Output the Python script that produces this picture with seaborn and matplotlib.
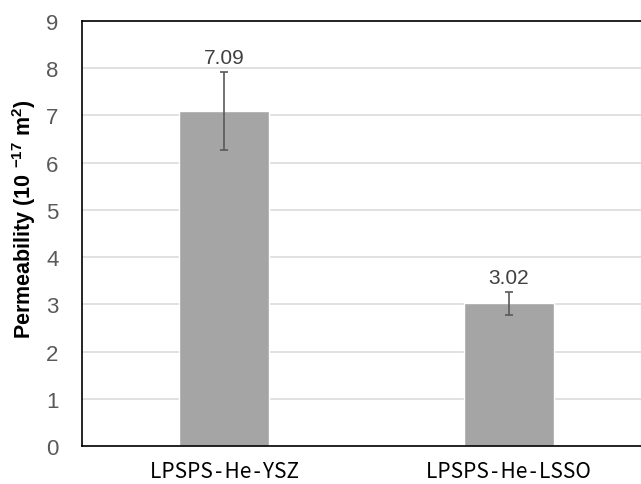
import matplotlib
matplotlib.use('Agg')
import matplotlib.pyplot as plt
import seaborn as sns
import pandas as pd

# Data
samples = ['LPSPS-He-YSZ', 'LPSPS-He-LSSO']
permeability = [7.09, 3.02]
errors = [0.82, 0.24]

sns.set_theme(style='white')
plt.rcParams['font.family'] = ['Liberation Sans', 'DejaVu Sans']
plt.rcParams['mathtext.fontset'] = 'custom'
plt.rcParams['mathtext.rm'] = 'Liberation Sans:bold'
plt.rcParams['mathtext.default'] = 'rm'

df = pd.DataFrame({'sample': samples, 'value': permeability})

fig = plt.figure(figsize=(6.41, 4.85), dpi=100)
ax = fig.add_axes([82 / 641, 38 / 485, 569 / 641, 425 / 485])

sns.barplot(data=df, x='sample', y='value', color='#A5A5A5', saturation=1,
            width=0.315, errorbar=None, ax=ax, zorder=2)
ax.errorbar(range(len(samples)), permeability, yerr=errors, fmt='none',
            ecolor='#595959', elinewidth=1.2, capsize=3, capthick=1.2, zorder=3)

for i, (v, e) in enumerate(zip(permeability, errors)):
    ax.annotate(f'{v:.2f}', xy=(i, v + e), xytext=(0, 4), textcoords='offset points',
                ha='center', va='bottom', fontsize=15, color='#404040')

ax.set_ylim(0, 9)
ax.set_xlim(-0.5, 1.5)
ax.set_yticks(range(0, 10))
ax.yaxis.grid(True, color='#DCDCDC', linewidth=1.2, zorder=0)
ax.set_axisbelow(True)

ax.tick_params(axis='y', length=0, pad=17, labelsize=16, labelcolor='#595959')
ax.tick_params(axis='x', length=0, pad=10)
ax.set_xticks(range(len(samples)))
ax.set_xticklabels([s.replace('-', '\u200a-\u200a') for s in samples])
for lbl in ax.get_xticklabels():
    lbl.set_fontfamily(['Noto Sans CJK SC', 'DejaVu Sans'])
    lbl.set_fontsize(15)
    lbl.set_color('black')

ax.set_xlabel('')
ax.set_ylabel('Permeability (10 $^{-17}$ m$^{2}$)', fontsize=15.5, color='black',
              fontweight='bold')
ax.yaxis.set_label_coords(-0.078, 0.535)

for side in ['left', 'bottom', 'top', 'right']:
    ax.spines[side].set_visible(True)
    ax.spines[side].set_color('black')
    ax.spines[side].set_linewidth(1.2)

fig.savefig('out.png', dpi=100)
